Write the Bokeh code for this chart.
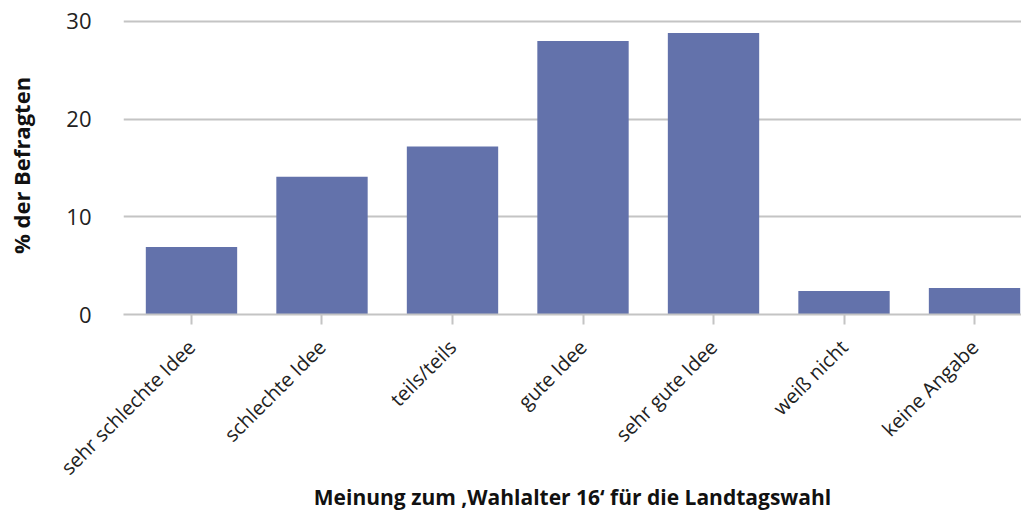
import numpy as np
from bokeh.plotting import figure
from bokeh.models import Range1d, FixedTicker, ColumnDataSource
from bokeh.embed import file_html
from bokeh.resources import INLINE

categories = ["sehr schlechte Idee", "schlechte Idee", "teils/teils", "gute Idee",
              "sehr gute Idee", "weiß nicht", "keine Angabe"]
values = [6.9, 14.1, 17.2, 28.0, 28.8, 2.4, 2.7]
y_ticks = [0, 10, 20, 30]

xpos = list(range(len(categories)))
src = ColumnDataSource(dict(x=xpos, top=values, cat=categories))

p = figure(width=1021, height=514, output_backend="svg", toolbar_location=None,
           x_range=Range1d(-0.521, 6.36), y_range=Range1d(0, 30.5),
           min_border_top=16, min_border_bottom=200, min_border_left=123, min_border_right=0)
p.outline_line_color = None
p.background_fill_color = "white"

p.vbar(x="x", top="top", width=0.70, source=src, color="#6372AB", line_color=None)

font = "Open Sans"
# y axis
p.yaxis.ticker = FixedTicker(ticks=y_ticks)
p.yaxis.axis_line_color = None
p.yaxis.major_tick_line_color = None
p.yaxis.minor_tick_line_color = None
p.yaxis.major_label_standoff = 26
p.yaxis.major_label_text_font = font
p.yaxis.major_label_text_font_size = "22px"
p.yaxis.major_label_text_color = "#222222"
p.yaxis.axis_label = "% der Befragten"
p.yaxis.axis_label_text_font = font
p.yaxis.axis_label_text_font_style = "bold"
p.yaxis.axis_label_text_font_size = "22px"
p.yaxis.axis_label_text_color = "#111111"
p.yaxis.axis_label_standoff = 27

# x axis
p.xaxis.ticker = FixedTicker(ticks=xpos)
p.xaxis.major_label_overrides = {i: c for i, c in enumerate(categories)}
p.xaxis.axis_line_color = "#c4c4c4"
p.xaxis.axis_line_width = 2
p.xaxis.major_tick_line_color = "#c4c4c4"
p.xaxis.major_tick_line_width = 2
p.xaxis.major_tick_in = 0
p.xaxis.major_tick_out = 10
p.xaxis.minor_tick_line_color = None
p.xaxis.major_label_orientation = np.pi / 4
p.xaxis.major_label_text_font = font
p.xaxis.major_label_text_font_size = "20px"
p.xaxis.major_label_text_color = "#222222"
p.xaxis.major_label_standoff = 19
p.xaxis.axis_label = "Meinung zum \u201aWahlalter 16\u2018 für die Landtagswahl"
p.xaxis.axis_label_text_font = font
p.xaxis.axis_label_text_font_style = "bold"
p.xaxis.axis_label_text_font_size = "21px"
p.xaxis.axis_label_text_color = "#111111"
p.xaxis.axis_label_standoff = -10

p.xgrid.grid_line_color = None
p.ygrid.grid_line_color = "#c4c4c4"
p.ygrid.grid_line_width = 2

open("out.html", "w").write(file_html(p, INLINE))
